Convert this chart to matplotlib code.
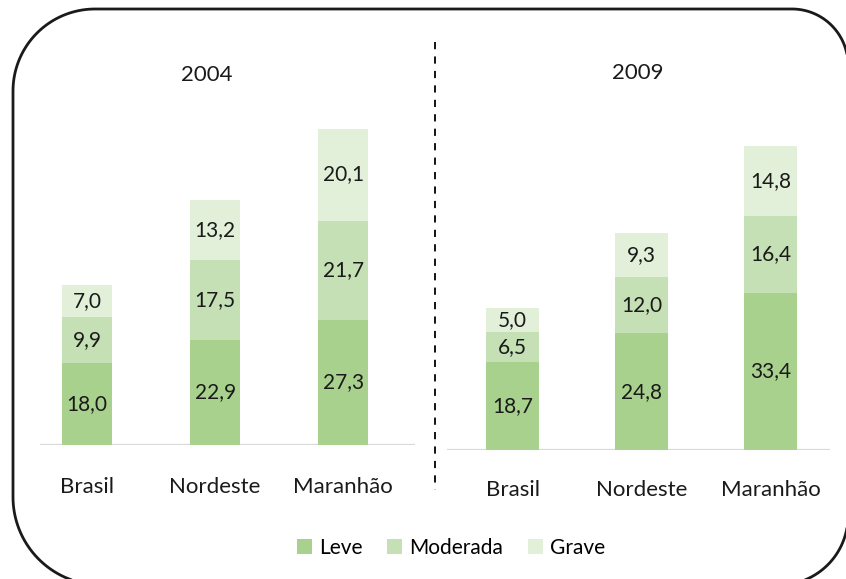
import matplotlib
matplotlib.use("Agg")
import numpy as np
import matplotlib.pyplot as plt
from matplotlib.patches import Patch, Polygon

categories = ["Brasil", "Nordeste", "Maranhão"]
years = ["2004", "2009"]
series = ["Leve", "Moderada", "Grave"]
leve_2004 = [18.0, 22.9, 27.3]
moderada_2004 = [9.9, 17.5, 21.7]
grave_2004 = [7.0, 13.2, 20.1]
leve_2009 = [18.7, 24.8, 33.4]
moderada_2009 = [6.5, 12.0, 16.4]
grave_2009 = [5.0, 9.3, 14.8]

colors = ["#a9d18e", "#c5e0b4", "#e2f0d9"]
FONT = "Lato"
W, H = 846, 579

fig = plt.figure(figsize=(W / 100, H / 100), dpi=100)
fig.patch.set_facecolor("white")

# background axes in pixel coordinates for border / separator
bg = fig.add_axes([0, 0, 1, 1])
bg.set_xlim(0, W)
bg.set_ylim(H, 0)
bg.axis("off")

def rounded_outline(L, T, R, B, r_tl, r_tr, r_br, r_bl, n=40):
    pts = []
    def arc(cx, cy, r, a0, a1):
        a = np.linspace(np.radians(a0), np.radians(a1), n)
        return list(zip(cx + r * np.cos(a), cy + r * np.sin(a)))
    pts += arc(L + r_tl, T + r_tl, r_tl, 180, 270)
    pts += arc(R - r_tr, T + r_tr, r_tr, 270, 360)
    pts += arc(R - r_br, B - r_br, r_br, 0, 90)
    pts += arc(L + r_bl, B - r_bl, r_bl, 90, 180)
    return np.array(pts)

outline = rounded_outline(13, 9, 848, 585, 82, 56, 69, 88)
bg.add_patch(Polygon(outline, closed=True, fill=False, edgecolor="#1a1a1a", lw=2,
                     joinstyle="round", clip_on=False))
bg.plot([435, 435], [42, 490], color="black", lw=1.3, ls=(0, (4, 4)))

def px_axes(x0, y_top, x1, y_bot):
    return fig.add_axes([x0 / W, 1 - y_bot / H, (x1 - x0) / W, (y_bot - y_top) / H])

def fmt(v):
    return f"{v:.1f}".replace(".", ",")

panels = [
    dict(box=(40, 40, 415, 445), xlim=(-0.367, 2.56), ylim=(0, 405 / 4.58), width=0.39,
         data=[leve_2004, moderada_2004, grave_2004], title=years[0], title_xy=(207, 75), lab_y=487),
    dict(box=(447, 40, 830, 450), xlim=(-0.51, 2.46), ylim=(0, 410 / 4.70), width=0.41,
         data=[leve_2009, moderada_2009, grave_2009], title=years[1], title_xy=(638, 73), lab_y=490),
]

for p in panels:
    ax = px_axes(*p["box"])
    ax.set_xlim(*p["xlim"])
    ax.set_ylim(*p["ylim"])
    ax.axis("off")
    ax.axhline(0, color="#d9d9d9", lw=1.6, zorder=1)
    x = list(range(len(categories)))
    bottom = [0.0] * len(categories)
    for vals, c in zip(p["data"], colors):
        ax.bar(x, vals, p["width"], bottom=bottom, color=c, edgecolor="none", zorder=2)
        for xi, b, v in zip(x, bottom, vals):
            ax.text(xi, b + v / 2, fmt(v), ha="center", va="center",
                    fontsize=15, family=FONT, color="#1a1a1a", zorder=3)
        bottom = [b + v for b, v in zip(bottom, vals)]
    for xi, cat in zip(x, categories):
        xd = ax.transData.transform((xi, 0))[0]
        fig.text(xd / W, 1 - p["lab_y"] / H, cat, ha="center", va="center",
                 fontsize=16, family=FONT, color="#1a1a1a")
    tx, ty = p["title_xy"]
    fig.text(tx / W, 1 - ty / H, p["title"], ha="center", va="center",
             fontsize=16, family=FONT, color="#1a1a1a")

handles = [Patch(facecolor=c, edgecolor="none") for c in colors]
fig.legend(handles, series, loc="center", bbox_to_anchor=(451 / W, 1 - 548 / H), ncol=3,
           frameon=False, handlelength=0.7, handleheight=0.7, handletextpad=0.35,
           columnspacing=1.2, prop={"family": FONT, "size": 15})

fig.savefig("out.png", dpi=100, facecolor="white")
